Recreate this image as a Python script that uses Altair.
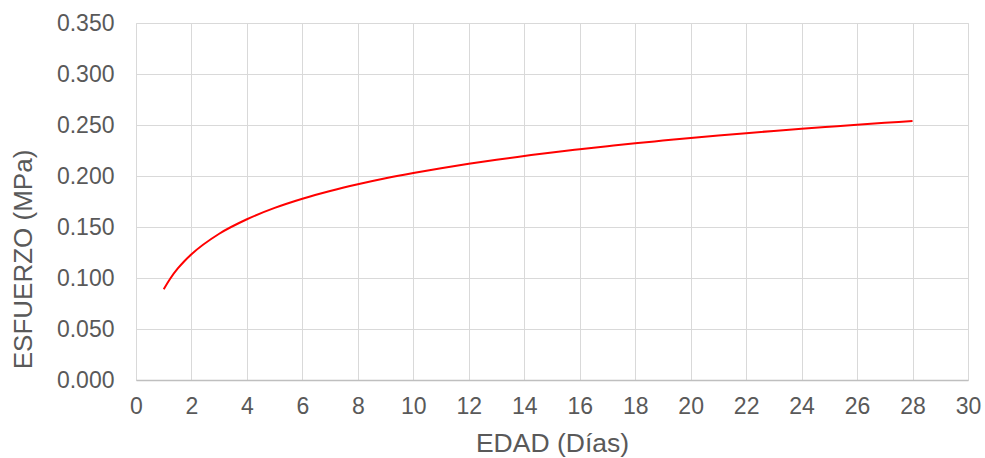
import altair as alt
import pandas as pd

# Age in days and measured stress (MPa); the first day is read at quarter-day steps
dias = [1, 1.25, 1.5, 1.75] + list(range(2, 29))
esfuerzo = [
    0.0890, 0.1000, 0.1091, 0.1167,
    0.1233, 0.1434, 0.1576, 0.1687, 0.1777, 0.1853, 0.1919, 0.1978, 0.2030,
    0.2077, 0.2120, 0.2160, 0.2196, 0.2231, 0.2262, 0.2292, 0.2321, 0.2347, 0.2373,
    0.2397, 0.2420, 0.2442, 0.2463, 0.2483, 0.2503, 0.2521, 0.2539,
]
x_ticks = list(range(0, 31, 2))
y_ticks = [0.0, 0.05, 0.1, 0.15, 0.2, 0.25, 0.3, 0.35]

df = pd.DataFrame({"dias": dias, "esfuerzo": esfuerzo})

FONT = "Liberation Sans"
TXT = "#595959"
GRID = "#d9d9d9"

chart = (
    alt.Chart(df)
    .mark_line(color="#ff0000", strokeWidth=2, interpolate="monotone")
    .encode(
        x=alt.X(
            "dias:Q",
            scale=alt.Scale(domain=[0, 30], nice=False, zero=False),
            axis=alt.Axis(
                title="EDAD (Días)",
                values=x_ticks,
                format="d",
                grid=True,
                gridColor=GRID,
                gridWidth=1,
                domain=True,
                domainColor="#bfbfbf",
                domainWidth=1.5,
                ticks=False,
                labelFlush=False,
                labelFont=FONT,
                labelFontSize=23,
                labelColor=TXT,
                labelPadding=15,
                titleFont=FONT,
                titleFontSize=26.5,
                titleFontWeight="normal",
                titleColor=TXT,
                titlePadding=12,
            ),
        ),
        y=alt.Y(
            "esfuerzo:Q",
            scale=alt.Scale(domain=[0, 0.35], nice=False),
            axis=alt.Axis(
                title="ESFUERZO (MPa)",
                values=y_ticks,
                format=".3f",
                grid=True,
                gridColor=GRID,
                gridWidth=1,
                domain=False,
                ticks=False,
                labelFlush=False,
                labelFont=FONT,
                labelFontSize=23,
                labelColor=TXT,
                labelPadding=22,
                titleFont=FONT,
                titleFontSize=26,
                titleFontWeight="normal",
                titleColor=TXT,
                titlePadding=20,
                titleY=236,
            ),
        ),
    )
    .properties(
        width=832,
        height=357,
        autosize=alt.AutoSizeParams(type="none"),
        padding={"left": 136, "top": 23, "right": 17, "bottom": 78},
    )
    .configure_view(stroke=GRID, strokeWidth=1)
    .configure(background="white")
)

chart.save("out.html", embed_options={"renderer": "svg", "actions": False})
